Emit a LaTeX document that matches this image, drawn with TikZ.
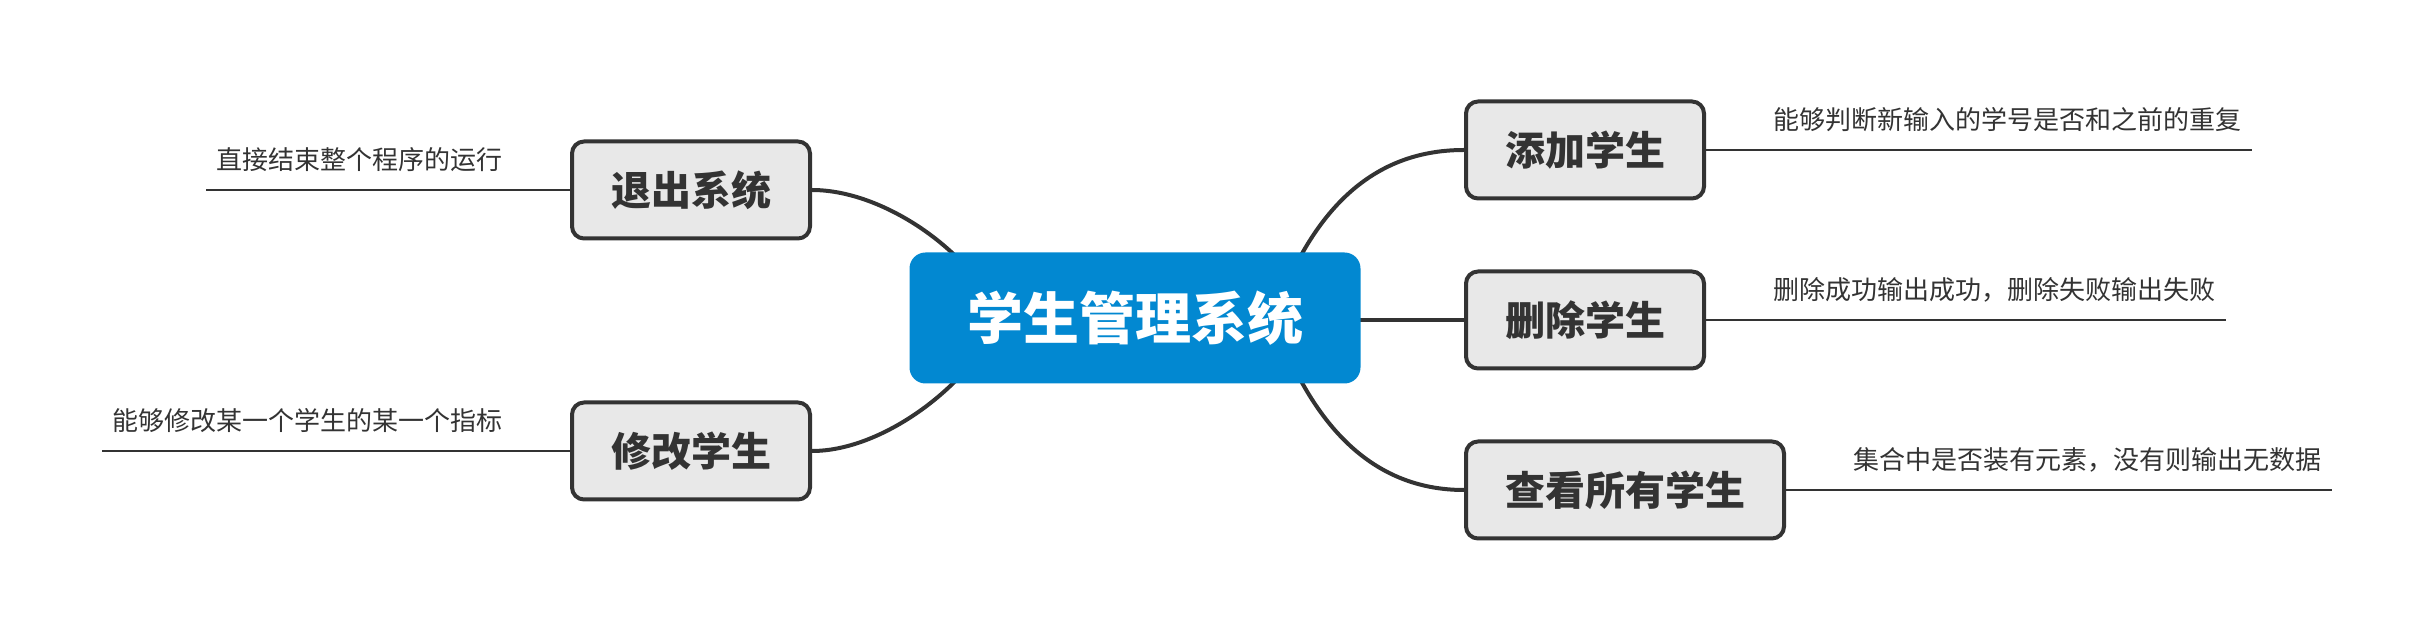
\documentclass[tikz,border=0pt]{standalone}
\usepackage{fontspec}
\setmainfont{Noto Sans CJK SC}
\usetikzlibrary{positioning,backgrounds}
\definecolor{inkgray}{HTML}{333333}
\definecolor{boxgray}{HTML}{E8E8E8}
\definecolor{rootblue}{HTML}{0288D1}
\tikzset{
  root/.style={fill=rootblue, text=white, rounded corners=8pt, font=\bfseries\fontsize{28}{34}\selectfont, inner xsep=28.75pt, minimum height=65.5pt},
  topic/.style={draw=inkgray, line width=2pt, fill=boxgray, text=inkgray, rounded corners=6pt, font=\bfseries\fontsize{20}{24}\selectfont, inner xsep=19.5pt, minimum height=48.5pt},
  note/.style={text=inkgray, font=\fontsize{13}{16}\selectfont, inner xsep=5pt, inner ysep=2pt},
  branch/.style={draw=inkgray, line width=2pt},
  leaf/.style={draw=inkgray, line width=1.4pt},
}
\begin{document}
\begin{tikzpicture}[x=0.5pt,y=-0.5pt]
	\useasboundingbox (0,0) rectangle (2430,640);
	\node[root] (sms) at (1135,318) {学生管理系统};
	% right side
	\node[topic, anchor=west] (add) at (1464,150) {添加学生};
	\node[topic, anchor=west] (del) at (1464,320) {删除学生};
	\node[topic, anchor=west] (show) at (1464,490) {查看所有学生};
	% left side
	\node[topic, anchor=east] (quit) at (812,190) {退出系统};
	\node[topic, anchor=east] (edit) at (812,451) {修改学生};
	% notes
	\node[note, right=28.5pt of add.east, yshift=15pt] (addnote) {能够判断新输入的学号是否和之前的重复};
	\node[note, right=28.5pt of del.east, yshift=15pt] (delnote) {删除成功输出成功，删除失败输出失败};
	\node[note, right=28.5pt of show.east, yshift=15pt] (shownote) {集合中是否装有元素，没有则输出无数据};
	\node[note, left=28.5pt of quit.west, yshift=15pt] (quitnote) {直接结束整个程序的运行};
	\node[note, left=28.5pt of edit.west, yshift=15pt] (editnote) {能够修改某一个学生的某一个指标};
	\foreach \n in {add,del,show}
		\draw[leaf] (\n.east) -- (\n.east -| \n note.east);
	\foreach \n in {quit,edit}
		\draw[leaf] (\n.west) -- (\n.west -| \n note.west);
	\begin{scope}[on background layer]
		\draw[branch] ([shift={(145,-18)}]sms.center) .. controls +(40,-100) and +(-84,0) .. (add.west);
		\draw[branch] (sms.center |- del.west) -- (del.west);
		\draw[branch] ([shift={(145,18)}]sms.center) .. controls +(40,100) and +(-84,0) .. (show.west);
		\draw[branch] ([shift={(-145,-18)}]sms.center) .. controls +(-30,-55) and +(68,0) .. (quit.east);
		\draw[branch] ([shift={(-145,18)}]sms.center) .. controls +(-30,55) and +(68,0) .. (edit.east);
	\end{scope}
\end{tikzpicture}
\end{document}
